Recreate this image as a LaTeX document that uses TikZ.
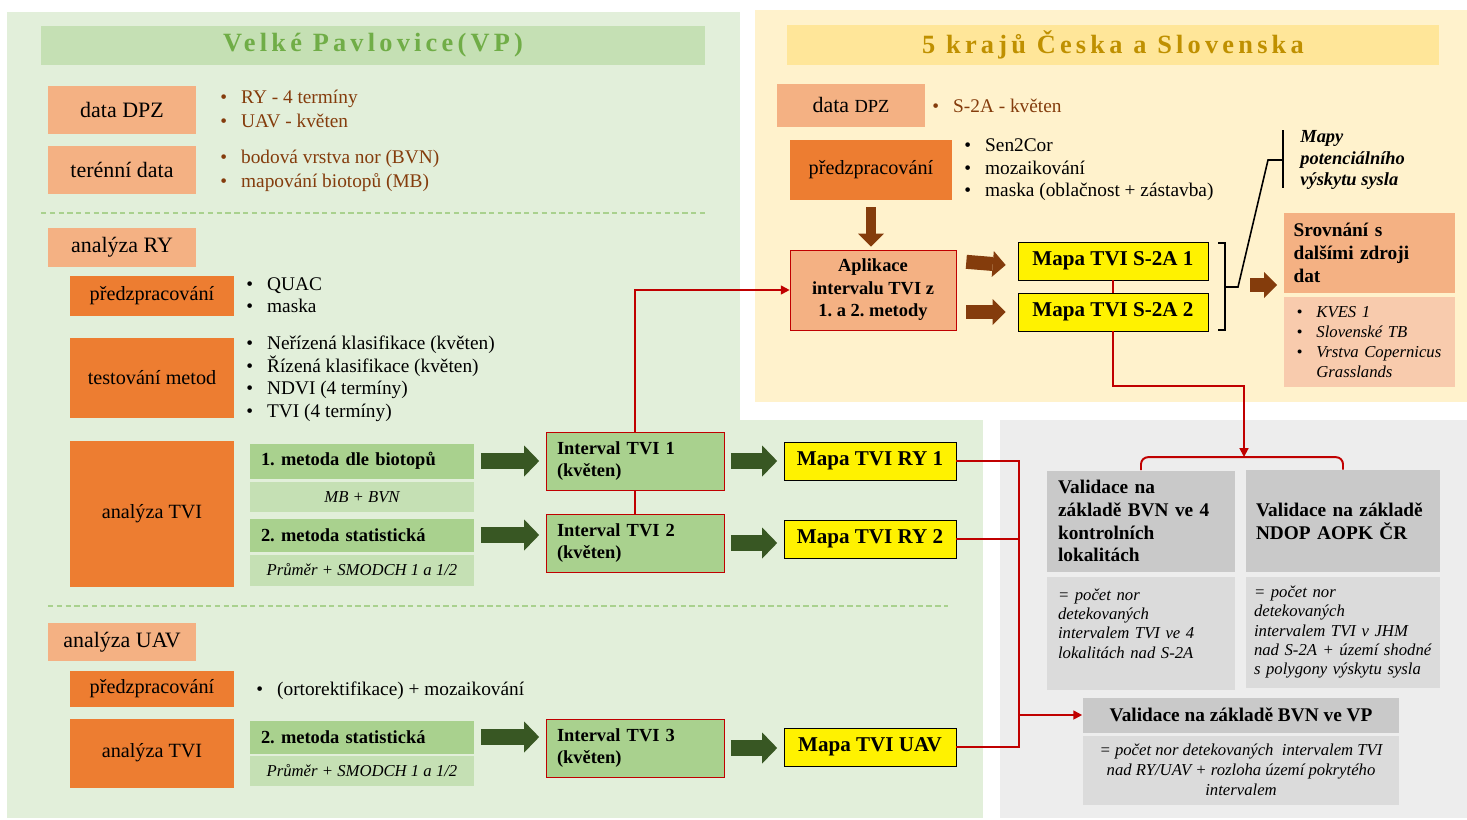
\documentclass[tikz,border=0pt]{standalone}
\usepackage{fontspec}
\setmainfont{Liberation Serif}
\newfontfamily\titlefont[LetterSpace=16]{Liberation Serif}
\usetikzlibrary{shapes.geometric, arrows.meta, positioning}
\definecolor{greenbg}{HTML}{E2EFDA}
\definecolor{yellowbg}{HTML}{FFF2CC}
\definecolor{greybg}{HTML}{EDEDED}
\definecolor{titlegreen}{HTML}{C5E0B4}
\definecolor{titlegreentext}{HTML}{70AD47}
\definecolor{titleyellow}{HTML}{FFE699}
\definecolor{titleyellowtext}{HTML}{BF9000}
\definecolor{salmon}{HTML}{F4B183}
\definecolor{peach}{HTML}{F8CBAD}
\definecolor{orangebox}{HTML}{ED7D31}
\definecolor{methodgreen}{HTML}{A9D18E}
\definecolor{palegreen}{HTML}{C5E0B4}
\definecolor{darkred}{HTML}{C00000}
\definecolor{arrowgreen}{HTML}{385723}
\definecolor{rustbrown}{HTML}{843C0C}
\definecolor{grey1}{HTML}{C9C9C9}
\definecolor{grey2}{HTML}{DBDBDB}
\newcommand{\itm}{\textbullet\hspace{8pt}}
\frenchspacing

\begin{document}
\begin{tikzpicture}[x=0.02cm, y=-0.02cm]
% Define box styles
\tikzstyle{lightbox} = [rectangle, fill=salmon, inner sep=0pt, minimum width=2.96cm, font=\fontsize{12.5}{15}\selectfont]
\tikzstyle{darkbox} = [rectangle, fill=orangebox, inner sep=0pt, minimum width=3.28cm, font=\fontsize{11.5}{14}\selectfont]
\tikzstyle{method} = [rectangle, fill=methodgreen, inner sep=0pt, minimum width=4.48cm, text width=4.04cm, align=left, font=\fontsize{10.5}{13}\selectfont\bfseries]
\tikzstyle{methoddesc} = [rectangle, fill=palegreen, inner sep=0pt, minimum width=4.48cm, font=\fontsize{9.5}{11}\selectfont\itshape]
\tikzstyle{interval} = [rectangle, draw=darkred, fill=methodgreen, inner sep=0pt, minimum width=3.56cm, minimum height=1.16cm, text width=3.12cm, align=left, font=\fontsize{10.5}{12.5}\selectfont\bfseries]
\tikzstyle{mapbox} = [rectangle, draw=black, fill=yellow, inner sep=0pt, minimum width=3.44cm, minimum height=0.76cm, font=\fontsize{12}{15}\selectfont\bfseries]
\tikzstyle{valhead} = [rectangle, fill=grey1, inner sep=0pt, align=left, font=\fontsize{11}{13}\selectfont\bfseries]
\tikzstyle{valtext} = [rectangle, fill=grey2, inner sep=0pt, align=left, font=\fontsize{9.5}{11}\selectfont\itshape]
\tikzstyle{blist} = [anchor=west, inner sep=0pt, align=left, font=\fontsize{11}{12.8}\selectfont]
% Define arrow styles
\tikzstyle{garrow} = [draw=arrowgreen, line width=0.32cm, shorten <=0.13cm, shorten >=0.13cm, -{Triangle[length=0.3cm 0, width=0.62cm 0, line width=0pt 0]}]
\tikzstyle{barrow} = [draw=rustbrown, line width=0.28cm, -{Triangle[length=0.26cm 0, width=0.52cm 0, line width=0pt 0]}]
\tikzstyle{rline} = [draw=darkred, line width=1.1pt]
\tikzstyle{rarrow} = [rline, -{Triangle[length=5pt, width=5pt]}]
\tikzstyle{sepline} = [draw=methodgreen, line width=0.8pt, dash pattern=on 3pt off 2pt]

\useasboundingbox (0,0) rectangle (1467,819);
% Background panels
\fill[greenbg] (7,12) rectangle (983,818);
\fill[white] (740,0) rectangle (1467,420);
\fill[yellowbg] (755,10) rectangle (1467,402);
\fill[greybg] (1000,420) rectangle (1467,818);

% Titles
\node[rectangle, fill=titlegreen, minimum width=13.28cm, minimum height=0.78cm, text=titlegreentext, font=\titlefont\fontsize{15}{18}\selectfont\bfseries] (TitleVP) at (373,45) {Velké Pavlovice(VP)};
\node[rectangle, fill=titleyellow, minimum width=13.06cm, minimum height=0.78cm, text=titleyellowtext, font=\titlefont\fontsize{15}{18}\selectfont\bfseries] (TitleSK) at (1113,45) {5 krajů Česka a Slovenska};

% Velke Pavlovice - input data
\node[lightbox, minimum height=0.96cm] (DataDPZ) at (122,110) {data DPZ};
\node[lightbox, minimum height=0.96cm] (TerenniData) at (122,170) {terénní data};
\node[blist, text=rustbrown, font=\fontsize{11}{14}\selectfont] (ListDPZ) at (220,109) {\itm RY - 4 termíny\\\itm UAV - květen};
\node[blist, text=rustbrown, font=\fontsize{11}{14}\selectfont] (ListTeren) at (220,171) {\itm bodová vrstva nor (BVN)\\\itm mapování biotopů (MB)};
\draw[sepline] (41,213) -- (705,213);

% Analyza RY
\node[lightbox, minimum height=0.78cm] (AnalyzaRY) at (122,247) {analýza RY};
\node[darkbox, minimum height=0.8cm] (PredzpRY) at (152,296) {předzpracování};
\node[blist] (ListPredzRY) at (246,295) {\itm QUAC\\\itm maska};
\node[darkbox, minimum height=1.6cm] (TestMetod) at (152,378) {testování metod};
\node[blist] (ListTest) at (246,379) {\itm Neřízená klasifikace (květen)\\\itm Řízená klasifikace (květen)\\\itm NDVI (4 termíny)\\\itm TVI (4 termíny)};
\node[darkbox, minimum height=2.94cm] (AnalyzaTVI) at (152,514) {analýza TVI};
\node[method, minimum height=0.7cm] (Metoda1) at (362,461) {1. metoda dle biotopů};
\node[methoddesc, minimum height=0.6cm] (Popis1) at (362,497) {MB + BVN};
\node[method, minimum height=0.66cm] (Metoda2) at (362,535) {2. metoda statistická};
\node[methoddesc, minimum height=0.62cm] (Popis2) at (362,570) {Průměr + SMODCH 1 a 1/2};
\node[interval] (Int1) at (635,461) {Interval TVI 1\\(květen)};
\node[interval] (Int2) at (635,543) {Interval TVI 2\\(květen)};
\node[mapbox] (MapaRY1) at (870,461) {Mapa TVI RY 1};
\node[mapbox] (MapaRY2) at (870,539) {Mapa TVI RY 2};
\draw[sepline] (48,606) -- (948,606);

% Analyza UAV
\node[lightbox, minimum height=0.76cm] (AnalyzaUAV) at (122,642) {analýza UAV};
\node[darkbox, minimum height=0.72cm] (PredzpUAV) at (152,689) {předzpracování};
\node[blist] (ListPredzUAV) at (256,691) {\itm (ortorektifikace) + mozaikování};
\node[darkbox, minimum height=1.38cm] (AnalyzaTVIu) at (152,753) {analýza TVI};
\node[method, minimum height=0.66cm] (Metoda2u) at (362,737) {2. metoda statistická};
\node[methoddesc, minimum height=0.6cm] (Popis2u) at (362,771) {Průměr + SMODCH 1 a 1/2};
\node[interval] (Int3) at (635,748) {Interval TVI 3\\(květen)};
\node[mapbox] (MapaUAV) at (870,747) {Mapa TVI UAV};

% 5 kraju - Sentinel-2
\node[lightbox, minimum height=0.86cm] (DataDPZs) at (851,105) {data {\fontsize{10.5}{12}\selectfont DPZ}};
\node[blist, text=rustbrown] (ListS2) at (932,106) {\itm S-2A - květen};
\node[darkbox, minimum width=3.26cm, minimum height=1.2cm] (PredzpS2) at (871,170) {předzpracování};
\node[blist] (ListPredzS2) at (964,170) {\itm Sen2Cor\\\itm mozaikování\\\itm maska (oblačnost + zástavba)};
\node[rectangle, draw=darkred, fill=salmon, inner sep=0pt, minimum width=3.32cm, minimum height=1.6cm, align=center, font=\fontsize{10.5}{12.8}\selectfont\bfseries] (Aplikace) at (873,290) {Aplikace\\intervalu TVI z\\1. a 2. metody};
\node[mapbox, minimum width=3.8cm] (MapaS1) at (1113,261) {Mapa TVI S-2A 1};
\node[mapbox, minimum width=3.8cm] (MapaS2) at (1113,312) {Mapa TVI S-2A 2};
\node[anchor=west, inner sep=0pt, align=left, font=\fontsize{10.5}{12}\selectfont\bfseries\itshape] (MapyNote) at (1300,160) {Mapy\\potenciálního\\výskytu sysla};
\node[rectangle, fill=salmon, inner sep=0pt, minimum width=3.42cm, minimum height=1.6cm, text width=3.02cm, align=left, font=\fontsize{11}{13}\selectfont\bfseries] (Srovnani) at (1369,253) {Srovnání s\\dalšími zdroji\\dat};
\node[rectangle, fill=peach, inner sep=0pt, minimum width=3.42cm, minimum height=1.8cm, text width=2.9cm, align=left, font=\fontsize{9.5}{11.3}\selectfont\itshape] (Zdroje) at (1369,342) {\itm KVES 1\\\itm Slovenské TB\\\itm Vrstva Copernicus\\\phantom{\itm}Grasslands};

% Validation
\node[valhead, minimum width=3.76cm, minimum height=2.02cm, text width=3.32cm] (ValBVN4) at (1141,521) {Validace na\\základě BVN ve 4\\kontrolních\\lokalitách};
\node[valtext, minimum width=3.76cm, minimum height=2.26cm, text width=3.32cm] (ValBVN4txt) at (1141,633) {= počet nor\\detekovaných\\intervalem TVI ve 4\\lokalitách nad S-2A\\\mbox{}};
\node[valhead, minimum width=3.88cm, minimum height=2.04cm, text width=3.48cm] (ValNDOP) at (1343,521) {Validace na základě\\NDOP AOPK ČR};
\node[valtext, minimum width=3.88cm, minimum height=2.22cm, text width=3.56cm] (ValNDOPtxt) at (1343,632) {= počet nor\\detekovaných\\intervalem TVI v JHM\\nad S-2A + území shodné\\s polygony výskytu sysla};
\node[valhead, minimum width=6.34cm, minimum height=0.7cm, align=center] (ValVP) at (1241,715) {Validace na základě BVN ve VP};
\node[valtext, minimum width=6.34cm, minimum height=1.38cm, align=center, font=\fontsize{9.5}{11.5}\selectfont\itshape] (ValVPtxt) at (1241,770) {= počet nor detekovaných \ intervalem TVI\\nad RY/UAV + rozloha území pokrytého\\intervalem};

% Block arrows
\draw[garrow] (Metoda1.east) -- (Int1.west);
\draw[garrow] (Metoda2.east) -- (Metoda2.east -| Int2.west);
\draw[garrow] (Metoda2u.east) -- (Metoda2u.east -| Int3.west);
\draw[garrow] (Int1.east) -- (MapaRY1.west);
\draw[garrow] (Int2.east) -- (Int2.east -| MapaRY2.west);
\draw[garrow] (Int3.east) -- (Int3.east -| MapaUAV.west);
\draw[barrow, line width=0.2cm, shorten <=0.14cm, shorten >=0.06cm] (PredzpS2.south) -- (PredzpS2.south |- Aplikace.north);
\draw[barrow, shorten <=0.2cm, shorten >=0.24cm] (MapaS1.west -| Aplikace.east) -- ([yshift=-0.1cm]MapaS1.west);
\draw[barrow, shorten <=0.2cm, shorten >=0.24cm] (MapaS2.west -| Aplikace.east) -- (MapaS2.west);
\coordinate (BrTip) at (1250,285);
\draw[barrow, shorten >=0.12cm] (BrTip) -- (BrTip -| Srovnani.west);

% Brackets
\draw[line width=0.9pt] (1218,243) -- (1225,243) -- (1225,330) -- (1218,330);
\draw[line width=0.9pt] (1225,287) -- (1238,287) -- (1268,160) -- (1283,160);
\draw[line width=0.9pt] (1283,130) -- (1283,188);

% Red connectors
\draw[rarrow] (Int1.north) |- (Aplikace.west);
\draw[rline] (Int1.south) -- (Int2.north);
\draw[rline] (MapaS1.south) -- (MapaS2.north);
\coordinate (BraceTop) at (1244,457);
\draw[rarrow] (MapaS2.south) -- ++(0,55) -| (BraceTop);
\draw[rline, rounded corners=4pt] (ValBVN4.north) -- ++(0,-13) -| (ValNDOP.north);
\coordinate (Split) at (1019,715);
\draw[rline] (MapaRY1.east) -| (Split);
\draw[rline] (MapaRY2.east) -- (MapaRY2.east -| Split);
\draw[rline] (MapaUAV.east) -| (Split);
\draw[rarrow] (Split) -- (Split -| ValVP.west);
\end{tikzpicture}
\end{document}
